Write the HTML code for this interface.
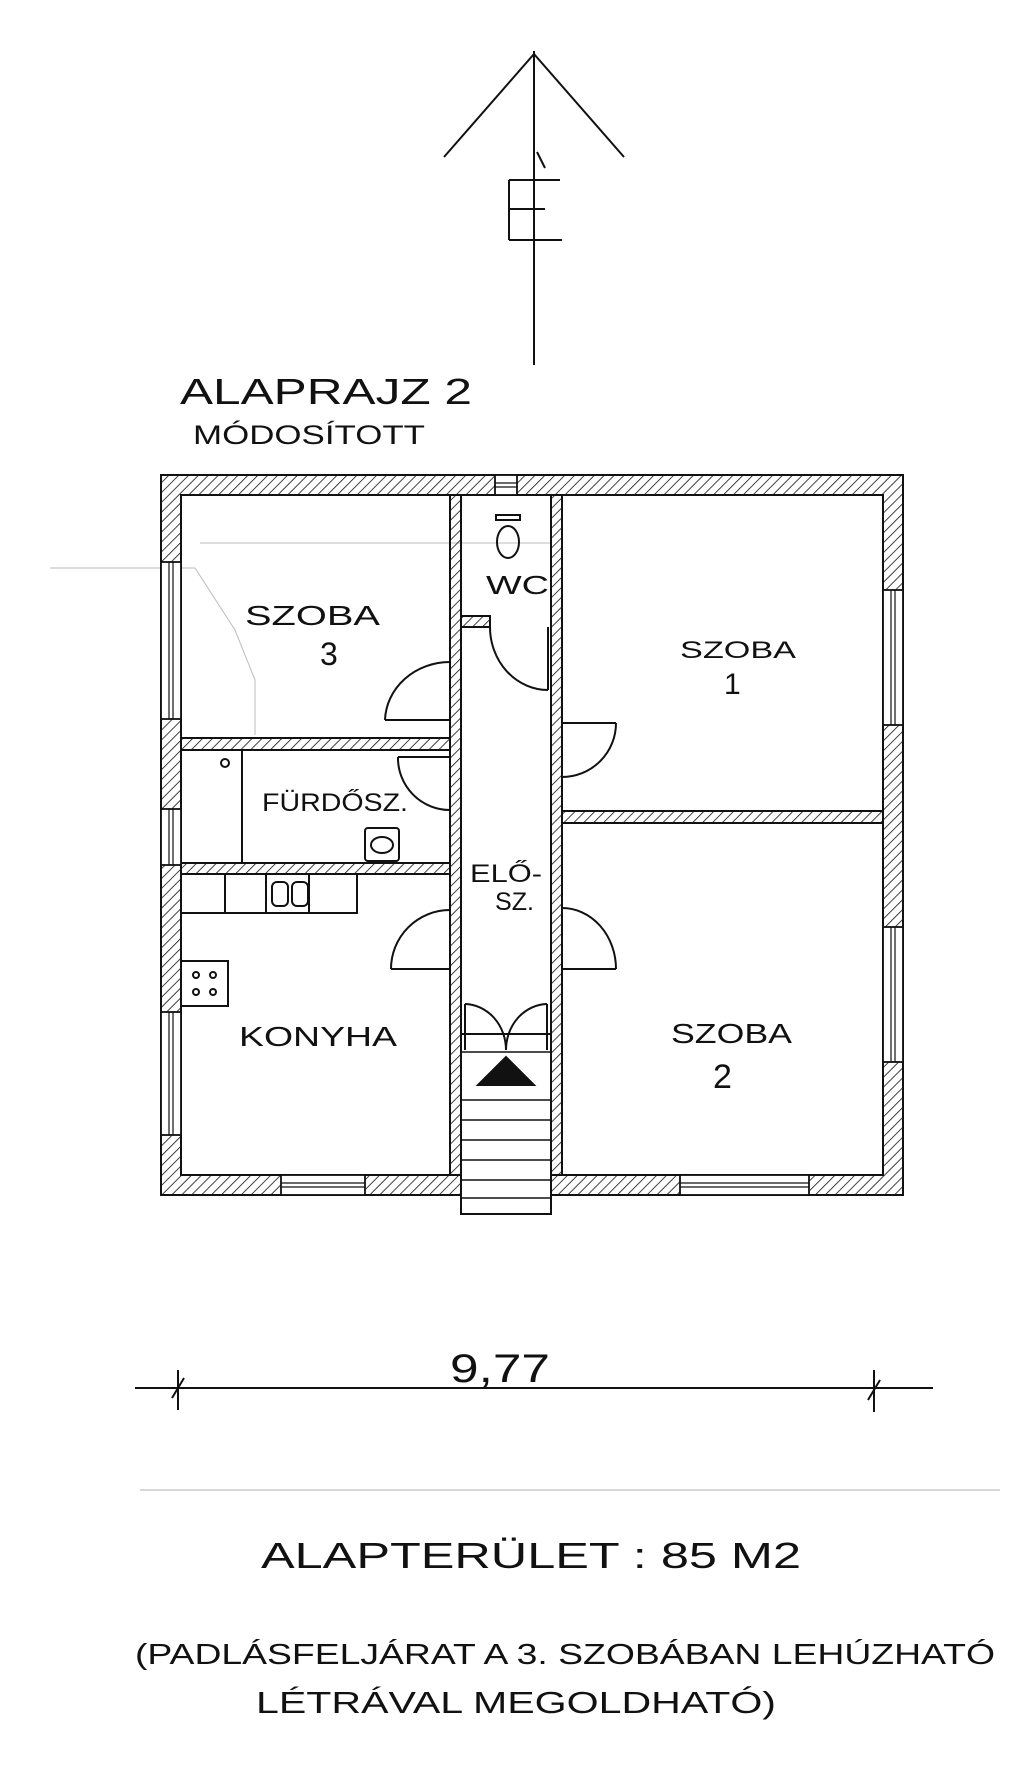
<!DOCTYPE html>
<html><head><meta charset="utf-8"><style>
html,body{margin:0;padding:0;background:#fff}
svg{display:block}
text{font-family:"Liberation Sans",sans-serif;fill:#111}
</style></head><body>
<svg width="1024" height="1772" viewBox="0 0 1024 1772" xmlns="http://www.w3.org/2000/svg">
<defs>
<pattern id="h" width="7" height="7" patternUnits="userSpaceOnUse" patternTransform="rotate(45)">
<line x1="0" y1="0" x2="0" y2="7" stroke="#111" stroke-width="1.6"/>
</pattern>
</defs>
<g stroke="#111" stroke-width="2" fill="none">
<line x1="534" y1="51" x2="534" y2="365"/>
<polyline points="444,157 534,54 624,157"/>
<line x1="509" y1="180" x2="509" y2="240"/>
<line x1="509" y1="180" x2="560" y2="180"/>
<line x1="509" y1="209" x2="545" y2="209"/>
<line x1="509" y1="240" x2="562" y2="240"/>
<line x1="537" y1="152" x2="545" y2="168"/>
<polyline points="50,568 195,568 235,630 255,680 255,735" stroke="#bbb" stroke-width="1"/>
<line x1="200" y1="543" x2="550" y2="543" stroke="#bbb" stroke-width="1"/>
<line x1="140" y1="1490" x2="1000" y2="1490" stroke="#ccc" stroke-width="1.5"/>
<g fill="url(#h)" stroke-width="2">
<path d="M161,475 H903 V1195 H161 Z M181,495 V1175 H883 V495 Z" fill-rule="evenodd"/>
<rect x="450" y="495" width="11" height="680"/>
<rect x="551" y="495" width="11" height="680"/>
<rect x="181" y="738" width="269" height="12"/>
<rect x="181" y="863" width="269" height="11"/>
<rect x="461" y="616" width="29" height="11"/>
<rect x="562" y="811" width="321" height="12"/>
</g>
<g fill="#fff" stroke-width="1.8">
<rect x="161" y="562" width="20" height="157"/>
<rect x="161" y="809" width="20" height="56"/>
<rect x="161" y="1012" width="20" height="123"/>
<rect x="883" y="590" width="20" height="135"/>
<rect x="883" y="927" width="20" height="135"/>
<rect x="281" y="1175" width="84" height="20"/>
<rect x="680" y="1175" width="129" height="20"/>
<rect x="495" y="475" width="22" height="20"/>
</g>
<g stroke-width="1.2">
<line x1="169" y1="562" x2="169" y2="719"/><line x1="173" y1="562" x2="173" y2="719"/>
<line x1="169" y1="809" x2="169" y2="865"/><line x1="173" y1="809" x2="173" y2="865"/>
<line x1="169" y1="1012" x2="169" y2="1135"/><line x1="173" y1="1012" x2="173" y2="1135"/>
<line x1="891" y1="590" x2="891" y2="725"/><line x1="895" y1="590" x2="895" y2="725"/>
<line x1="891" y1="927" x2="891" y2="1062"/><line x1="895" y1="927" x2="895" y2="1062"/>
<line x1="281" y1="1183" x2="365" y2="1183"/><line x1="281" y1="1187" x2="365" y2="1187"/>
<line x1="680" y1="1183" x2="809" y2="1183"/><line x1="680" y1="1187" x2="809" y2="1187"/>
<line x1="495" y1="483" x2="517" y2="483"/><line x1="495" y1="487" x2="517" y2="487"/>
</g>
<rect x="461" y="1034" width="90" height="180" fill="#fff"/>
<g stroke-width="1.6">
<line x1="461" y1="1052" x2="551" y2="1052"/>
<line x1="461" y1="1100" x2="551" y2="1100"/>
<line x1="461" y1="1120" x2="551" y2="1120"/>
<line x1="461" y1="1140" x2="551" y2="1140"/>
<line x1="461" y1="1160" x2="551" y2="1160"/>
<line x1="461" y1="1180" x2="551" y2="1180"/>
<line x1="461" y1="1198" x2="551" y2="1198"/>
</g>
<polygon points="478,1085 506,1057 534,1085" fill="#111"/>
<line x1="465" y1="1004" x2="465" y2="1050"/>
<line x1="547" y1="1004" x2="547" y2="1050"/>
<path d="M465,1004 A42,46 0 0 1 506,1050"/>
<path d="M547,1004 A42,46 0 0 0 506,1050"/>
<line x1="450" y1="720" x2="385" y2="720"/><path d="M385,720 A65,60 0 0 1 450,662"/>
<line x1="450" y1="757" x2="398" y2="757"/><path d="M398,757 A52,52 0 0 0 450,810"/>
<line x1="548" y1="627" x2="548" y2="690"/><path d="M490,627 A58,63 0 0 0 548,690"/>
<line x1="562" y1="723" x2="616" y2="723"/><path d="M616,723 A54,54 0 0 1 562,777"/>
<line x1="450" y1="969" x2="391" y2="969"/><path d="M391,969 A59,59 0 0 1 450,910"/>
<line x1="562" y1="969" x2="616" y2="969"/><path d="M616,969 A54,61 0 0 0 562,908"/>
<ellipse cx="508" cy="542" rx="11" ry="16"/>
<rect x="496" y="515" width="24" height="5"/>
<line x1="242" y1="750" x2="242" y2="863"/>
<circle cx="225" cy="763" r="4"/>
<rect x="365" y="828" width="34" height="33" rx="3"/>
<ellipse cx="382" cy="845" rx="11" ry="8"/>
<rect x="181" y="874" width="176" height="39"/>
<line x1="225" y1="874" x2="225" y2="913"/>
<line x1="266" y1="874" x2="266" y2="913"/>
<line x1="309" y1="874" x2="309" y2="913"/>
<rect x="272" y="882" width="16" height="24" rx="5"/>
<rect x="292" y="882" width="16" height="24" rx="5"/>
<rect x="181" y="961" width="47" height="45"/>
<circle cx="196" cy="975" r="3"/><circle cx="213" cy="975" r="3"/>
<circle cx="196" cy="992" r="3"/><circle cx="213" cy="992" r="3"/>
<line x1="135" y1="1388" x2="933" y2="1388"/>
<line x1="178" y1="1370" x2="178" y2="1410"/><line x1="172" y1="1398" x2="184" y2="1378"/>
<line x1="874" y1="1370" x2="874" y2="1412"/><line x1="868" y1="1400" x2="880" y2="1380"/>
</g>
<g lengthAdjust="spacingAndGlyphs">
<text x="180" y="404" font-size="36" textLength="292" lengthAdjust="spacingAndGlyphs">ALAPRAJZ 2</text>
<text x="193" y="444" font-size="27" textLength="232" lengthAdjust="spacingAndGlyphs">MÓDOSÍTOTT</text>
<text x="245" y="625" font-size="28" textLength="135" lengthAdjust="spacingAndGlyphs">SZOBA</text>
<text x="320" y="665" font-size="32">3</text>
<text x="680" y="658" font-size="24" textLength="116" lengthAdjust="spacingAndGlyphs">SZOBA</text>
<text x="724" y="694" font-size="30">1</text>
<text x="262" y="811" font-size="25" textLength="146" lengthAdjust="spacingAndGlyphs">FÜRDŐSZ.</text>
<text x="486" y="594" font-size="26" textLength="63" lengthAdjust="spacingAndGlyphs">WC</text>
<text x="470" y="882" font-size="25" textLength="72" lengthAdjust="spacingAndGlyphs">ELŐ-</text>
<text x="495" y="910" font-size="25" textLength="39" lengthAdjust="spacingAndGlyphs">SZ.</text>
<text x="239" y="1046" font-size="28" textLength="158" lengthAdjust="spacingAndGlyphs">KONYHA</text>
<text x="671" y="1043" font-size="28" textLength="121" lengthAdjust="spacingAndGlyphs">SZOBA</text>
<text x="713" y="1088" font-size="34">2</text>
<text x="450" y="1382" font-size="40" textLength="100" lengthAdjust="spacingAndGlyphs">9,77</text>
<text x="261" y="1568" font-size="36" textLength="540" lengthAdjust="spacingAndGlyphs">ALAPTERÜLET : 85 M2</text>
<text x="135" y="1664" font-size="29" textLength="860" lengthAdjust="spacingAndGlyphs">(PADLÁSFELJÁRAT A 3. SZOBÁBAN LEHÚZHATÓ</text>
<text x="256" y="1713" font-size="31" textLength="520" lengthAdjust="spacingAndGlyphs">LÉTRÁVAL MEGOLDHATÓ)</text>
</g>
</svg>
</body></html>
